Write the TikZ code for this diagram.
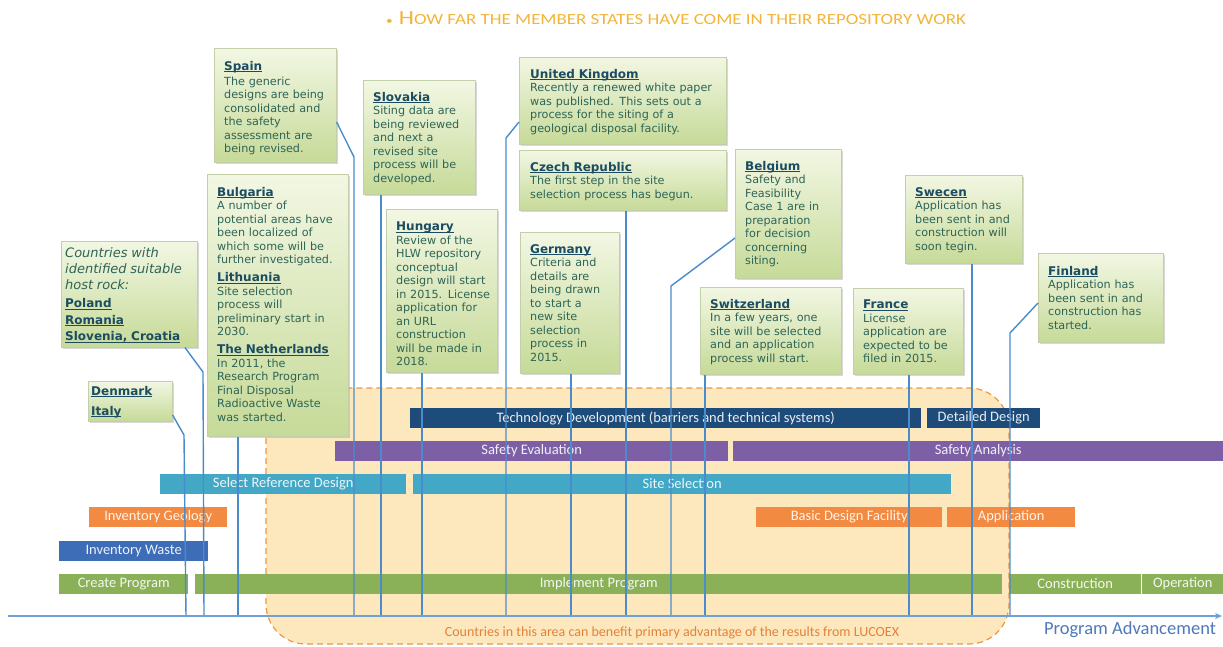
\documentclass[tikz,border=0pt]{standalone}
\usepackage{fontspec}
\usepackage{graphicx}
\usetikzlibrary{shadows,arrows.meta,calc}
\newfontfamily\boxfont{DejaVu Sans}
\newfontfamily\barfont{Carlito}
\newlength\ulw
\newcommand\uline[1]{\leavevmode\settowidth{\ulw}{#1}\rlap{\rule[-1.8pt]{\ulw}{0.8pt}}#1}
\definecolor{titlec}{HTML}{F4B43A}
\definecolor{boxtop}{HTML}{F2F7E3}
\definecolor{boxbot}{HTML}{C6DA98}
\definecolor{boxdraw}{HTML}{C2CFA8}
\definecolor{ttlc}{HTML}{1B4C62}
\definecolor{bodyc}{HTML}{2E6456}
\definecolor{conncol}{HTML}{4A8CCB}
\definecolor{axiscol}{HTML}{6E9FD6}
\definecolor{regfill}{HTML}{FDE8BE}
\definecolor{regdraw}{HTML}{EE9645}
\definecolor{techc}{HTML}{1D4C7A}
\definecolor{safec}{HTML}{7D5FA6}
\definecolor{sitec}{HTML}{42A8C6}
\definecolor{orc}{HTML}{F28A42}
\definecolor{invc}{HTML}{3E6DB8}
\definecolor{grc}{HTML}{8AB158}
\definecolor{progc}{HTML}{4E79BD}
\definecolor{notec}{HTML}{E38139}
\newcommand\ctl[1]{{\fontsize{12}{15}\selectfont\bfseries\color{ttlc}\uline{#1}\par}}
\newcommand\csep{\par\vspace{3pt}}
\begin{document}
\begin{tikzpicture}[x=1pt,y=-1pt,
  gbox/.style={draw=boxdraw, line width=0.6pt, top color=boxtop, bottom color=boxbot,
    drop shadow={shadow xshift=1.5pt, shadow yshift=-1.5pt, opacity=0.3}, anchor=north west, inner sep=0pt},
  btxt/.style={anchor=north west, inner sep=0pt, align=left, text=bodyc, font=\boxfont\fontsize{11.2}{13.5}\selectfont},
  bar/.style={anchor=north west, inner sep=0pt, minimum height=19.5pt, text=white, text opacity=0.9,
    font=\barfont\fontsize{14.5}{14.5}\selectfont},
  link/.style={draw=conncol, line width=1.4pt},
]
\useasboundingbox (0,0) rectangle (1223,646);
\fill[white] (0,0) rectangle (1223,646);

% title
\node[text=titlec, font=\barfont, inner sep=0pt] (title) at (676,18)
  {\scalebox{1.22}[1]{\fontsize{11}{11}\selectfont •\hspace{5pt}\fontsize{20}{20}\selectfont H\fontsize{15.5}{15.5}\selectfont OW FAR THE MEMBER STATES HAVE COME IN THEIR REPOSITORY WORK}};

% LUCOEX region
\draw[regdraw, dash pattern=on 6pt off 4pt, line width=1.2pt, fill=regfill, rounded corners=40pt]
  (266,388) rectangle (1009,644);

% bars
\node[bar, fill=techc, minimum width=511pt] (tech) at (410,408) {Technology Development (barriers and technical systems)};
\node[bar, fill=techc, minimum width=113pt] (detail) at (927,408) {Detailed Design};
\node[bar, fill=safec, minimum width=393pt] (safeev) at (335,441) {Safety Evaluation};
\node[bar, fill=safec, minimum width=490pt] (safean) at (733,441) {Safety Analysis};
\node[bar, fill=sitec, minimum width=246pt] (selref) at (160,474) {Select Reference Design};
\node[bar, fill=sitec, minimum width=538pt] (sitesel) at (413,474) {Site Selection};
\node[bar, fill=orc, minimum width=138pt] (invgeo) at (89,507) {Inventory Geology};
\node[bar, fill=orc, minimum width=186pt] (basic) at (756,507) {Basic Design Facility};
\node[bar, fill=orc, minimum width=128pt] (appl) at (947,507) {Application};
\node[bar, fill=invc, minimum width=149pt] (invw) at (59,541) {Inventory Waste};
\node[bar, fill=grc, minimum width=129pt] (create) at (59,574) {Create Program};
\node[bar, fill=grc, minimum width=807pt] (impl) at (195,574) {Implement Program};
\node[bar, fill=grc, minimum width=132pt] (constr) at (1009,574) {Construction};
\node[bar, fill=grc, minimum width=81pt] (oper) at (1142,574) {Operation};

% boxes
\node[gbox, minimum width=122pt, minimum height=114pt] (spain) at (214,48) {};
\node[gbox, minimum width=112pt, minimum height=114pt] (slovakia) at (363,80) {};
\node[gbox, minimum width=207pt, minimum height=87pt] (ukb) at (519,57) {};
\node[gbox, minimum width=207pt, minimum height=60pt] (czech) at (519,150) {};
\node[gbox, minimum width=141pt, minimum height=262pt] (bulgaria) at (207,174) {};
\node[gbox, minimum width=136pt, minimum height=106pt] (countries) at (61,241) {};
\node[gbox, minimum width=84pt, minimum height=40pt] (denmark) at (88,381) {};
\node[gbox, minimum width=111pt, minimum height=163pt] (hungary) at (386,209) {};
\node[gbox, minimum width=99pt, minimum height=141pt] (germany) at (520,232) {};
\node[gbox, minimum width=106pt, minimum height=129pt] (belgium) at (735,149) {};
\node[gbox, minimum width=141pt, minimum height=87pt] (swiss) at (700,287) {};
\node[gbox, minimum width=110pt, minimum height=86pt] (france) at (853,288) {};
\node[gbox, minimum width=117pt, minimum height=88pt] (sweden) at (905,175) {};
\node[gbox, minimum width=125pt, minimum height=89pt] (finland) at (1038,253) {};

% axis coordinates
\coordinate (axl) at (8,616);
\coordinate (axr) at (1222,616);
\coordinate (denax) at (186,616);
\coordinate (couax) at (204,616);
\coordinate (bulax) at (238,616);
\coordinate (spaax) at (354,616);
\coordinate (sloax) at (381,616);
\coordinate (hunax) at (422,616);
\coordinate (ukax) at (506,616);
\coordinate (gerax) at (571,616);
\coordinate (czeax) at (626,616);
\coordinate (belax) at (671,616);
\coordinate (swiax) at (705,616);
\coordinate (fraax) at (909,616);
\coordinate (sweax) at (972,616);
\coordinate (finax) at (1010,616);

% connectors
\draw[link] ([yshift=-34pt]denmark.north east) -- (184,435) -- (denax);
\draw[link] ([xshift=124pt]countries.south west) -- (203,372) -- (couax);
\draw[link] ([xshift=31pt]bulgaria.south west) -- (bulax);
\draw[link] ([yshift=-74pt]spain.north east) -- (354,157) -- (spaax);
\draw[link] ([xshift=18pt]slovakia.south west) -- (sloax);
\draw[link] ([xshift=36pt]hungary.south west) -- (hunax);
\draw[link] ([yshift=-65pt]ukb.north west) -- (506,138) -- (ukax);
\draw[link] ([xshift=51pt]germany.south west) -- (gerax);
\draw[link] ([xshift=107pt]czech.south west) -- (czeax);
\draw[link] ([yshift=-89pt]belgium.north west) -- (671,286) -- (belax);
\draw[link] ([xshift=5pt]swiss.south west) -- (swiax);
\draw[link] ([xshift=56pt]france.south west) -- (fraax);
\draw[link] ([xshift=67pt]sweden.south west) -- (sweax);
\draw[link] ([yshift=-50pt]finland.north west) -- (1010,333) -- (finax);

% axis
\draw[axiscol, line width=1.8pt, -{Stealth[length=7pt,width=6pt]}] (axl) -- (axr);
\node[text=progc, font=\barfont\fontsize{18.5}{18.5}\selectfont, inner sep=0pt] (progadv) at (1130,630) {Program Advancement};
\node[text=notec, font=\barfont\fontsize{14}{14}\selectfont, inner sep=0pt] (note) at (672,633) {Countries in this area can benefit primary advantage of the results from LUCOEX};

% box texts
\node[btxt, text width=122pt] (spaint) at ([shift={(10pt,-13pt)}]spain.north west)
 {\ctl{Spain}\vspace{1.5pt}The generic\\designs are being\\consolidated and\\the safety\\assessment are\\being revised.};
\node[btxt, text width=112pt] (slovakiat) at ([shift={(10pt,-12pt)}]slovakia.north west)
 {\ctl{Slovakia}Siting data are\\being reviewed\\and next a\\revised site\\process will be\\developed.};
\node[btxt, text width=207pt] (ukt) at ([shift={(11pt,-12pt)}]ukb.north west)
 {\ctl{United Kingdom}Recently a renewed white paper\\was published. This sets out a\\process for the siting of a\\geological disposal facility.};
\node[btxt, text width=207pt] (czecht) at ([shift={(11pt,-12pt)}]czech.north west)
 {\ctl{Czech Republic}The first step in the site\\selection process has begun.};
\node[btxt, text width=141pt] (bulgariat) at ([shift={(10pt,-13pt)}]bulgaria.north west)
 {\ctl{Bulgaria}A number of\\potential areas have\\been localized of\\which some will be\\further investigated.\csep
  \ctl{Lithuania}Site selection\\process will\\preliminary start in\\2030.\csep
  \ctl{The Netherlands}In 2011, the\\Research Program\\Final Disposal\\Radioactive Waste\\was started.};
\node[btxt, text width=136pt] (countriest) at ([shift={(4pt,-6pt)}]countries.north west)
 {{\fontsize{13}{16}\selectfont\itshape Countries with\\identified suitable\\host rock:\par}\vspace{2pt}
  {\fontsize{12}{16.5}\selectfont\bfseries\color{ttlc}\uline{Poland}\\\uline{Romania}\\\uline{Slovenia, Croatia}\par}};
\node[btxt, text width=84pt] (denmarkt) at ([shift={(3pt,-5pt)}]denmark.north west)
 {{\fontsize{12}{20}\selectfont\bfseries\color{ttlc}\uline{Denmark}\\\uline{Italy}\par}};
\node[btxt, text width=111pt] (hungaryt) at ([shift={(10pt,-13pt)}]hungary.north west)
 {\ctl{Hungary}Review of the\\HLW repository\\conceptual\\design will start\\in 2015. License\\application for\\an URL\\construction\\will be made in\\2018.};
\node[btxt, text width=99pt] (germanyt) at ([shift={(10pt,-12pt)}]germany.north west)
 {\ctl{Germany}Criteria and\\details are\\being drawn\\to start a\\new site\\selection\\process in\\2015.};
\node[btxt, text width=106pt] (belgiumt) at ([shift={(10pt,-12pt)}]belgium.north west)
 {\ctl{Belgium}Safety and\\Feasibility\\Case 1 are in\\preparation\\for decision\\concerning\\siting.};
\node[btxt, text width=141pt] (swisst) at ([shift={(10pt,-12pt)}]swiss.north west)
 {\ctl{Switzerland}In a few years, one\\site will be selected\\and an application\\process will start.};
\node[btxt, text width=110pt] (francet) at ([shift={(10pt,-12pt)}]france.north west)
 {\ctl{France}License\\application are\\expected to be\\filed in 2015.};
\node[btxt, text width=117pt] (swedent) at ([shift={(10pt,-12pt)}]sweden.north west)
 {\ctl{Swecen}Application has\\been sent in and\\construction will\\soon tegin.};
\node[btxt, text width=125pt] (finlandt) at ([shift={(10pt,-13pt)}]finland.north west)
 {\ctl{Finland}Application has\\been sent in and\\construction has\\started.};
\end{tikzpicture}
\end{document}
